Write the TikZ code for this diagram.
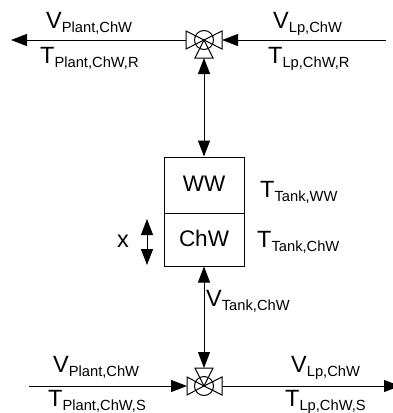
\documentclass[tikz,border=0pt]{standalone}
\usepackage{fontspec}
\setmainfont{Liberation Sans}
\usetikzlibrary{arrows.meta}
\newcommand{\lbl}[2]{#1{\fontsize{14.7}{16}\selectfont\raisebox{-4pt}{#2}}}
\tikzset{
  conn/.style={line width=1pt,draw=black},
  tipend/.style={conn,-{Triangle[length=16pt,width=12pt]}},
  tipboth/.style={conn,{Triangle[length=16pt,width=12pt]}-{Triangle[length=16pt,width=12pt]}},
  valvepart/.style={line width=1pt,draw=black,fill=white,line join=miter},
  txt/.style={font=\fontsize{23.5}{25}\selectfont,inner sep=0pt,anchor=base west},
  tankbox/.style={draw=black,line width=1pt,minimum width=80pt,inner sep=0pt,font=\fontsize{22.5}{24}\selectfont}
}
\begin{document}
\begin{tikzpicture}[x=1pt,y=-1pt]
\useasboundingbox (0,0) rectangle (393,413);
% tank
\node[tankbox,minimum height=56pt] (ww) at (204,185) {\raisebox{2pt}{WW}};
\node[tankbox,minimum height=53pt] (chw) at (204,239.5) {\raisebox{1.5pt}{ChW}};
% valve anchors
\coordinate (vt) at (204,40);
\coordinate (vtl) at (186,40);
\coordinate (vtr) at (222,40);
\coordinate (vtb) at (204,58);
\coordinate (vb) at (204,386);
\coordinate (vbl) at (187,386);
\coordinate (vbr) at (222,386);
\coordinate (vbt) at (204,368);
% free ends
\coordinate (tl) at (11,40);
\coordinate (tr) at (386,40);
\coordinate (bl) at (29,386);
\coordinate (br) at (400,386);
\coordinate (xt) at (147,219);
\coordinate (xb) at (147,265);
% connectors
\draw[tipend] (vtl) -- (tl);
\draw[tipend] (tr) -- (vtr);
\draw[tipboth] (vtb) -- (ww.north);
\draw[tipboth] (chw.south) -- (vbt);
\draw[tipend] (bl) -- (vbl);
\draw[tipend] (vbr) -- (br);
\draw[tipboth] (xt) -- (xb);
% top valve
\draw[valvepart] (vt) -- (186,31) -- (186,49) -- cycle;
\draw[valvepart] (vt) -- (222,31) -- (222,49) -- cycle;
\draw[valvepart] (vt) -- (195,58) -- (213,58) -- cycle;
\draw[line width=1pt] (vt) circle[radius=9.5];
% bottom valve
\draw[valvepart] (vb) -- (187,377) -- (187,395) -- cycle;
\draw[valvepart] (vb) -- (222,377) -- (222,395) -- cycle;
\draw[valvepart] (vb) -- (195,368) -- (213,368) -- cycle;
\draw[line width=1pt] (vb) circle[radius=9.5];
% labels
\node[txt] (a) at (46,28) {\lbl{V}{Plant,ChW}};
\node[txt] (b) at (40,63) {\lbl{T}{Plant,ChW,R}};
\node[txt] (c) at (273,28) {\lbl{V}{Lp,ChW}};
\node[txt] (d) at (268,63) {\lbl{T}{Lp,ChW,R}};
\node[txt] (e) at (260,197) {\lbl{T}{Tank,WW}};
\node[txt] (f) at (257,247) {\lbl{T}{Tank,ChW}};
\node[txt] (g) at (117,247) {x};
\node[txt] (h) at (206,306) {\lbl{V}{Tank,ChW}};
\node[txt] (i) at (53,372) {\lbl{V}{Plant,ChW}};
\node[txt] (j) at (48,406) {\lbl{T}{Plant,ChW,S}};
\node[txt] (k) at (291,372) {\lbl{V}{Lp,ChW}};
\node[txt] (l) at (285,406) {\lbl{T}{Lp,ChW,S}};
\end{tikzpicture}
\end{document}
